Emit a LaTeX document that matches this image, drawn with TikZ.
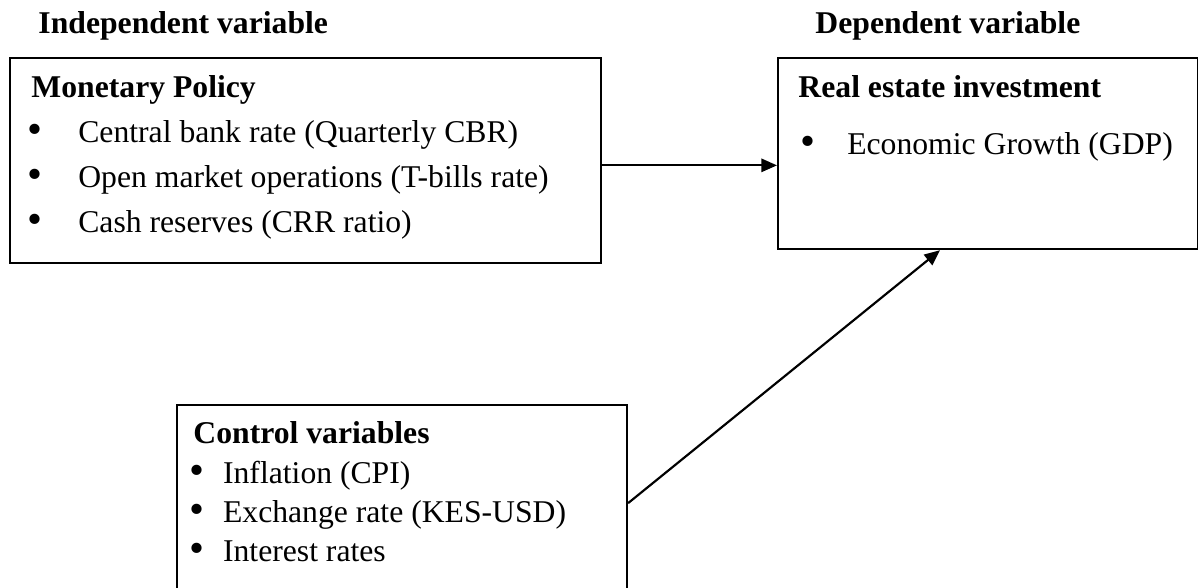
\documentclass[tikz,border=0pt]{standalone}
\usepackage{fontspec}
\usepackage{graphicx}
\setmainfont{Liberation Serif}
\usetikzlibrary{arrows.meta, positioning}

\tikzset{
  varbox/.style={draw, line width=0.9pt, inner sep=0pt, anchor=north west},
  head/.style={font=\fontsize{13.2}{15}\selectfont\bfseries, anchor=base west, inner sep=0pt},
  item/.style={font=\fontsize{13.2}{15}\selectfont, anchor=base west, inner sep=0pt},
  link/.style={line width=0.9pt, -{Triangle[length=6.5pt,width=5.5pt]}},
}
\newcommand{\bul}[1]{\makebox[#1][l]{\smash{\raisebox{-0.1ex}{\scalebox{1.35}{\textbullet}}}}}

\begin{document}
\begin{tikzpicture}[x=0.4167pt, y=-0.4167pt]

\useasboundingbox (0,0) rectangle (1198,587);
\clip (0,0) rectangle (1198,587);

\node[head] (indep) at (38,33) {Independent variable};
\node[head] (dep) at (815,33) {Dependent variable};

\node[varbox, minimum width=246.3pt, minimum height=85.4pt] (mp) at (9,57) {};
\node[head] (mphead) at (31,97) {Monetary Policy};
\node[item] (cbr) at (27,142) {\bul{21.2pt}Central bank rate (Quarterly CBR)};
\node[item] (omo) at (27,187) {\bul{21.2pt}Open market operations (T-bills rate)};
\node[item] (crr) at (27,232) {\bul{21.2pt}Cash reserves (CRR ratio)};

\node[varbox, minimum width=175pt, minimum height=79.6pt] (rei) at (777,57) {};
\node[head] (reihead) at (798,97) {Real estate investment};
\node[item] (gdp) at (800,154) {\bul{19.5pt}Economic Growth (GDP)};

\node[varbox, minimum width=187.5pt, minimum height=81.7pt] (cv) at (176,404) {};
\node[head] (cvhead) at (193,443) {Control variables};
\node[item] (cpi) at (189,483) {\bul{14pt}Inflation (CPI)};
\node[item] (kes) at (189,522) {\bul{14pt}Exchange rate (KES-USD)};
\node[item] (ir) at (189,561) {\bul{14pt}Interest rates};

\draw[link] ([yshift=-2pt]mp.east) -- ([yshift=-2pt]mp.east -| rei.west);
\draw[link] (cv.east) -- ([xshift=-20pt]rei.south);

\end{tikzpicture}
\end{document}
